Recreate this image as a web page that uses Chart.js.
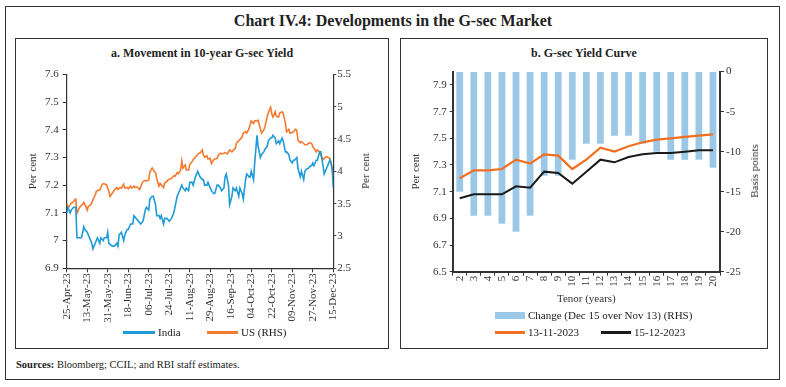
<!DOCTYPE html>
<html>
<head>
<meta charset="utf-8">
<script src="https://cdn.jsdelivr.net/npm/chart.js@4.4.1/dist/chart.umd.min.js"></script>
<style>
  * { box-sizing: border-box; }
  body { margin: 0; width: 786px; height: 387px; background: #fff; position: relative; overflow: hidden;
         font-family: 'Liberation Serif', 'DejaVu Serif', serif; color: #222; }
  .abs { position: absolute; }
  #frame { left: 5px; top: 6px; width: 775px; height: 374px; border: 1.5px solid #333; }
  #title { left: 0; width: 786px; top: 12px; text-align: center; font-size: 16px; font-weight: bold; }
  .panel { top: 38px; height: 311px; border: 1.5px solid #333; }
  .ptitle { top: 46px; text-align: center; font-size: 12px; font-weight: bold; }
  .leg { font-size: 11px; white-space: nowrap; line-height: 12px; }
  .sw { position: absolute; height: 2.5px; }
  .vtitle { position: absolute; font-size: 11px; color: #333; white-space: nowrap;
            transform: translate(-50%, -50%) rotate(-90deg); }
  #sources { left: 16px; top: 359px; font-size: 10.5px; }
</style>
</head>
<body>
<div id="frame" class="abs"></div>
<div id="title" class="abs">Chart IV.4: Developments in the G-sec Market</div>

<div class="abs panel" style="left:15px; width:374px;"></div>
<div class="abs panel" style="left:400px; width:368px;"></div>

<div class="abs ptitle" style="left:15px; width:374px;">a. Movement in 10-year G-sec Yield</div>
<div class="abs ptitle" style="left:400px; width:368px;">b. G-sec Yield Curve</div>

<canvas id="left" class="abs" style="left:16px; top:62px;" width="371" height="262"></canvas>
<canvas id="right" class="abs" style="left:401px; top:62px;" width="366" height="246"></canvas>

<!-- right-hand axis titles read bottom to top, like the left ones -->
<div class="vtitle" style="left:365px; top:171px;">Per cent</div>
<div class="vtitle" style="left:754px; top:171px;">Basis points</div>

<!-- legend, panel a -->
<div class="sw" style="left:123px; top:331px; width:32px; background:#1f9bd7;"></div>
<div class="abs leg" style="left:158px; top:326px;">India</div>
<div class="sw" style="left:207px; top:331px; width:31px; background:#f47a30;"></div>
<div class="abs leg" style="left:241px; top:326px;">US (RHS)</div>

<!-- legend, panel b -->
<div class="abs" style="left:495px; top:312px; width:30px; height:7px; background:#9cc8e8;"></div>
<div class="abs leg" style="left:528px; top:309px;">Change (Dec 15 over Nov 13) (RHS)</div>
<div class="sw" style="left:495px; top:331px; width:30px; background:#f26f21;"></div>
<div class="abs leg" style="left:528px; top:326px;">13-11-2023</div>
<div class="sw" style="left:601px; top:331px; width:30px; background:#1a1a1a;"></div>
<div class="abs leg" style="left:634px; top:326px;">15-12-2023</div>

<div id="sources" class="abs"><b>Sources:</b> Bloomberg; CCIL; and RBI staff estimates.</div>

<script>
// Panel a: 10-year yields, x = days since 25-Apr-2023
const dateTickLabels = ['25-Apr-23', '13-May-23', '31-May-23', '18-Jun-23', '06-Jul-23', '24-Jul-23', '11-Aug-23',
    '29-Aug-23', '16-Sep-23', '04-Oct-23', '22-Oct-23', '09-Nov-23', '27-Nov-23', '15-Dec-23'];

const indiaDays = [0, 1, 3, 4, 6, 8, 9, 12, 13, 15, 16, 18, 19, 21, 22, 23, 24, 26, 27, 29, 30, 32, 33, 35, 36, 37,
    40, 42, 44, 45, 46, 48, 50, 51, 53, 54, 56, 58, 59, 61, 63, 65, 67, 69, 70, 72, 73, 75, 76, 78, 79, 81, 82, 83,
    85, 86, 88, 90, 92, 94, 95, 97, 99, 101, 102, 104, 105, 107, 108, 110, 111, 113, 115, 117, 119, 120, 121, 123,
    124, 126, 127, 129, 130, 132, 133, 135, 136, 138, 139, 140, 142, 143, 145, 146, 148, 149, 151, 152, 154, 155,
    157, 158, 160, 161, 162, 164, 165, 167, 168, 170, 171, 173, 174, 176, 177, 179, 180, 181, 183, 184, 186, 187,
    189, 190, 192, 193, 195, 196, 198, 199, 200, 202, 203, 205, 206, 208, 209, 211, 212, 214, 215, 216, 217, 219,
    220, 222, 223, 225, 226, 228, 229, 231, 232, 233, 234];
const indiaYield = [7.10, 7.12, 7.10, 7.11, 7.12, 7.12, 7.01, 7.01, 7.01, 7.05, 7.04, 7.03, 7.02, 7.00, 6.99, 6.97,
    6.98, 7.00, 7.01, 6.99, 7.01, 7.00, 7.01, 7.01, 7.03, 6.99, 6.98, 6.98, 6.99, 6.98, 7.02, 7.03, 7.00, 7.02, 7.04,
    7.04, 7.06, 7.06, 7.09, 7.08, 7.07, 7.06, 7.07, 7.11, 7.12, 7.11, 7.15, 7.16, 7.16, 7.13, 7.09, 7.09, 7.08, 7.09,
    7.06, 7.08, 7.08, 7.07, 7.08, 7.10, 7.12, 7.16, 7.18, 7.20, 7.19, 7.18, 7.19, 7.18, 7.21, 7.21, 7.20, 7.23, 7.25,
    7.23, 7.22, 7.22, 7.20, 7.20, 7.21, 7.19, 7.18, 7.17, 7.17, 7.20, 7.20, 7.19, 7.18, 7.19, 7.23, 7.24, 7.20, 7.13,
    7.16, 7.19, 7.18, 7.19, 7.16, 7.19, 7.17, 7.15, 7.22, 7.24, 7.23, 7.23, 7.25, 7.22, 7.28, 7.38, 7.34, 7.30, 7.31,
    7.32, 7.33, 7.34, 7.36, 7.37, 7.37, 7.38, 7.37, 7.35, 7.36, 7.35, 7.37, 7.36, 7.32, 7.32, 7.31, 7.29, 7.28, 7.29,
    7.29, 7.30, 7.26, 7.23, 7.25, 7.22, 7.25, 7.26, 7.26, 7.27, 7.27, 7.28, 7.27, 7.29, 7.29, 7.32, 7.32, 7.27, 7.24,
    7.26, 7.27, 7.29, 7.28, 7.26, 7.19];

const usDays = [0, 1, 3, 4, 6, 7, 8, 9, 11, 12, 14, 15, 17, 18, 19, 21, 22, 23, 25, 26, 28, 29, 31, 32, 34, 35, 37,
    38, 40, 41, 42, 44, 45, 47, 48, 50, 51, 53, 54, 56, 57, 59, 60, 61, 63, 64, 66, 67, 69, 70, 72, 73, 75, 76, 78,
    79, 81, 82, 83, 85, 86, 88, 89, 91, 92, 94, 95, 97, 98, 100, 101, 102, 104, 105, 107, 108, 110, 111, 113, 114,
    116, 117, 119, 120, 121, 123, 124, 126, 127, 129, 130, 132, 133, 135, 136, 138, 139, 141, 142, 143, 145, 146,
    148, 149, 151, 152, 154, 155, 157, 158, 160, 161, 162, 164, 165, 167, 168, 170, 171, 173, 174, 176, 177, 179,
    180, 181, 183, 184, 186, 187, 189, 190, 192, 193, 195, 196, 198, 199, 201, 202, 203, 205, 206, 208, 209, 211,
    212, 214, 215, 216, 217, 219, 220, 222, 223, 225, 226, 228, 229, 231, 232, 233, 234];
const usYield = [3.51, 3.43, 3.48, 3.51, 3.53, 3.56, 3.57, 3.35, 3.43, 3.46, 3.49, 3.52, 3.45, 3.40, 3.46, 3.48, 3.51,
    3.56, 3.63, 3.69, 3.71, 3.71, 3.79, 3.81, 3.80, 3.79, 3.69, 3.61, 3.66, 3.69, 3.71, 3.75, 3.72, 3.75, 3.74, 3.80,
    3.74, 3.75, 3.73, 3.77, 3.74, 3.77, 3.75, 3.76, 3.74, 3.72, 3.81, 3.84, 3.86, 3.85, 3.87, 3.99, 4.05, 4.02, 3.98,
    3.89, 3.77, 3.81, 3.79, 3.75, 3.82, 3.84, 3.87, 3.88, 3.89, 3.93, 3.92, 3.98, 3.96, 4.02, 4.16, 4.05, 4.10, 4.02,
    4.02, 4.10, 4.15, 4.18, 4.22, 4.24, 4.28, 4.28, 4.33, 4.25, 4.22, 4.24, 4.19, 4.20, 4.12, 4.18, 4.19, 4.20, 4.25,
    4.28, 4.27, 4.28, 4.29, 4.27, 4.30, 4.33, 4.30, 4.32, 4.36, 4.44, 4.47, 4.49, 4.53, 4.59, 4.61, 4.59, 4.66, 4.72,
    4.78, 4.74, 4.78, 4.78, 4.79, 4.66, 4.59, 4.64, 4.69, 4.85, 4.91, 4.99, 4.89, 4.84, 4.92, 4.85, 4.84, 4.90, 4.92,
    4.90, 4.74, 4.61, 4.65, 4.59, 4.60, 4.61, 4.65, 4.63, 4.48, 4.44, 4.46, 4.43, 4.41, 4.41, 4.43, 4.44, 4.43, 4.38,
    4.36, 4.30, 4.33, 4.30, 4.25, 4.18, 4.20, 4.23, 4.22, 4.20, 4.12, 4.05, 3.92];

// Panel b: yield curve
const tenors = ['2', '3', '4', '5', '6', '7', '8', '9', '10', '11', '12', '13', '14', '15', '16', '17', '18', '19', '20'];
const changeBps = [-15, -18, -18, -19, -20, -18, -13, -13, -11, -9, -9, -8, -8, -9, -10, -11, -11, -11, -12];
const curveNov13 = [7.20, 7.26, 7.26, 7.27, 7.34, 7.31, 7.38, 7.37, 7.27, 7.34, 7.43, 7.40, 7.44, 7.47, 7.49, 7.50, 7.51, 7.52, 7.53];
const curveDec15 = [7.05, 7.08, 7.08, 7.08, 7.14, 7.13, 7.25, 7.24, 7.16, 7.25, 7.34, 7.32, 7.36, 7.38, 7.39, 7.39, 7.40, 7.41, 7.41];
const curveLeftTicks = [6.5, 6.7, 6.9, 7.1, 7.3, 7.5, 7.7, 7.9];

const serif = "'Liberation Serif', 'DejaVu Serif', serif";
const tickFont = { family: serif, size: 11 };
const titleFont = { family: serif, size: 11 };

function pairs(xs, ys) {
    return xs.map((d, i) => ({ x: d, y: ys[i] }));
}

// 7.0 -> "7", 3.0 -> "3", like the original
const plainNum = (v) => String(Math.round(v * 10) / 10);

function axisBits(lineWidth, tickLen) {
    return {
        border: { display: true, color: '#333', width: lineWidth },
        grid: { display: true, drawOnChartArea: false, drawTicks: true, tickLength: tickLen, tickColor: '#333', tickWidth: 1 }
    };
}

new Chart(document.getElementById('left'), {
    type: 'line',
    data: {
        datasets: [
            {
                label: 'India',
                data: pairs(indiaDays, indiaYield),
                borderColor: '#1f9bd7',
                borderWidth: 1.6,
                pointRadius: 0,
                yAxisID: 'y'
            },
            {
                label: 'US (RHS)',
                data: pairs(usDays, usYield),
                borderColor: '#f47a30',
                borderWidth: 1.6,
                pointRadius: 0,
                yAxisID: 'y2'
            }
        ]
    },
    options: {
        responsive: false,
        animation: false,
        layout: { padding: { top: 12.3, left: 0, right: 0, bottom: 0 } },
        plugins: { legend: { display: false }, tooltip: { enabled: false } },
        scales: {
            x: {
                type: 'linear',
                min: 0,
                max: 234,
                ...axisBits(1.2, 4),
                ticks: {
                    stepSize: 18,
                    autoSkip: false,
                    minRotation: 90,
                    maxRotation: 90,
                    padding: 1,
                    color: '#333',
                    font: tickFont,
                    callback: (v) => dateTickLabels[Math.round(v / 18)]
                },
                afterFit: (s) => { s.height = 55.7; }
            },
            y: {
                position: 'left',
                min: 6.9,
                max: 7.6,
                ...axisBits(1.2, 4),
                ticks: { stepSize: 0.1, padding: 4, color: '#333', font: tickFont, callback: plainNum },
                title: { display: true, text: 'Per cent', color: '#333', font: titleFont, padding: { top: 11, bottom: 0 } },
                afterFit: (s) => { s.width = 50.7; }
            },
            y2: {
                position: 'right',
                min: 2.5,
                max: 5.5,
                ...axisBits(1.2, 3),
                ticks: { stepSize: 0.5, padding: 1, color: '#333', font: tickFont, callback: plainNum },
                afterFit: (s) => { s.width = 53.7; }
            }
        }
    }
});

new Chart(document.getElementById('right'), {
    type: 'bar',
    data: {
        labels: tenors,
        datasets: [
            {
                type: 'line',
                label: '13-11-2023',
                data: curveNov13,
                borderColor: '#f26f21',
                borderWidth: 2.2,
                pointRadius: 0,
                yAxisID: 'yL',
                order: 1
            },
            {
                type: 'line',
                label: '15-12-2023',
                data: curveDec15,
                borderColor: '#1a1a1a',
                borderWidth: 2,
                pointRadius: 0,
                yAxisID: 'yL',
                order: 1
            },
            {
                type: 'bar',
                label: 'Change (Dec 15 over Nov 13) (RHS)',
                data: changeBps,
                backgroundColor: '#9cc8e8',
                barPercentage: 0.5,
                categoryPercentage: 0.96,
                yAxisID: 'yR',
                order: 2
            }
        ]
    },
    options: {
        responsive: false,
        animation: false,
        layout: { padding: { top: 8, left: 0, right: 0, bottom: 0 } },
        plugins: { legend: { display: false }, tooltip: { enabled: false } },
        scales: {
            x: {
                ...axisBits(2, 4),
                grid: { display: true, offset: true, drawOnChartArea: false, drawTicks: true, tickLength: 4, tickColor: '#333' },
                ticks: { autoSkip: false, minRotation: 90, maxRotation: 90, padding: 0, color: '#333', font: tickFont },
                title: { display: true, text: 'Tenor (years)', color: '#333', font: titleFont, padding: { top: 0, bottom: 2.5 } },
                afterFit: (s) => { s.height = 36.3; }
            },
            yL: {
                position: 'left',
                min: 6.5,
                max: 8.0,
                ...axisBits(2, 3),
                afterBuildTicks: (s) => { s.ticks = curveLeftTicks.map((v) => ({ value: v })); },
                ticks: { padding: 3, color: '#333', font: tickFont, callback: (v) => v.toFixed(1) },
                title: { display: true, text: 'Per cent', color: '#333', font: titleFont, padding: { top: 8.4, bottom: 0 } },
                afterFit: (s) => { s.width = 51.7; }
            },
            yR: {
                position: 'right',
                min: -25,
                max: 0,
                ...axisBits(2, 4),
                ticks: { stepSize: 5, padding: 2, color: '#333', font: tickFont },
                afterFit: (s) => { s.width = 47; }
            }
        }
    }
});
</script>
</body>
</html>
